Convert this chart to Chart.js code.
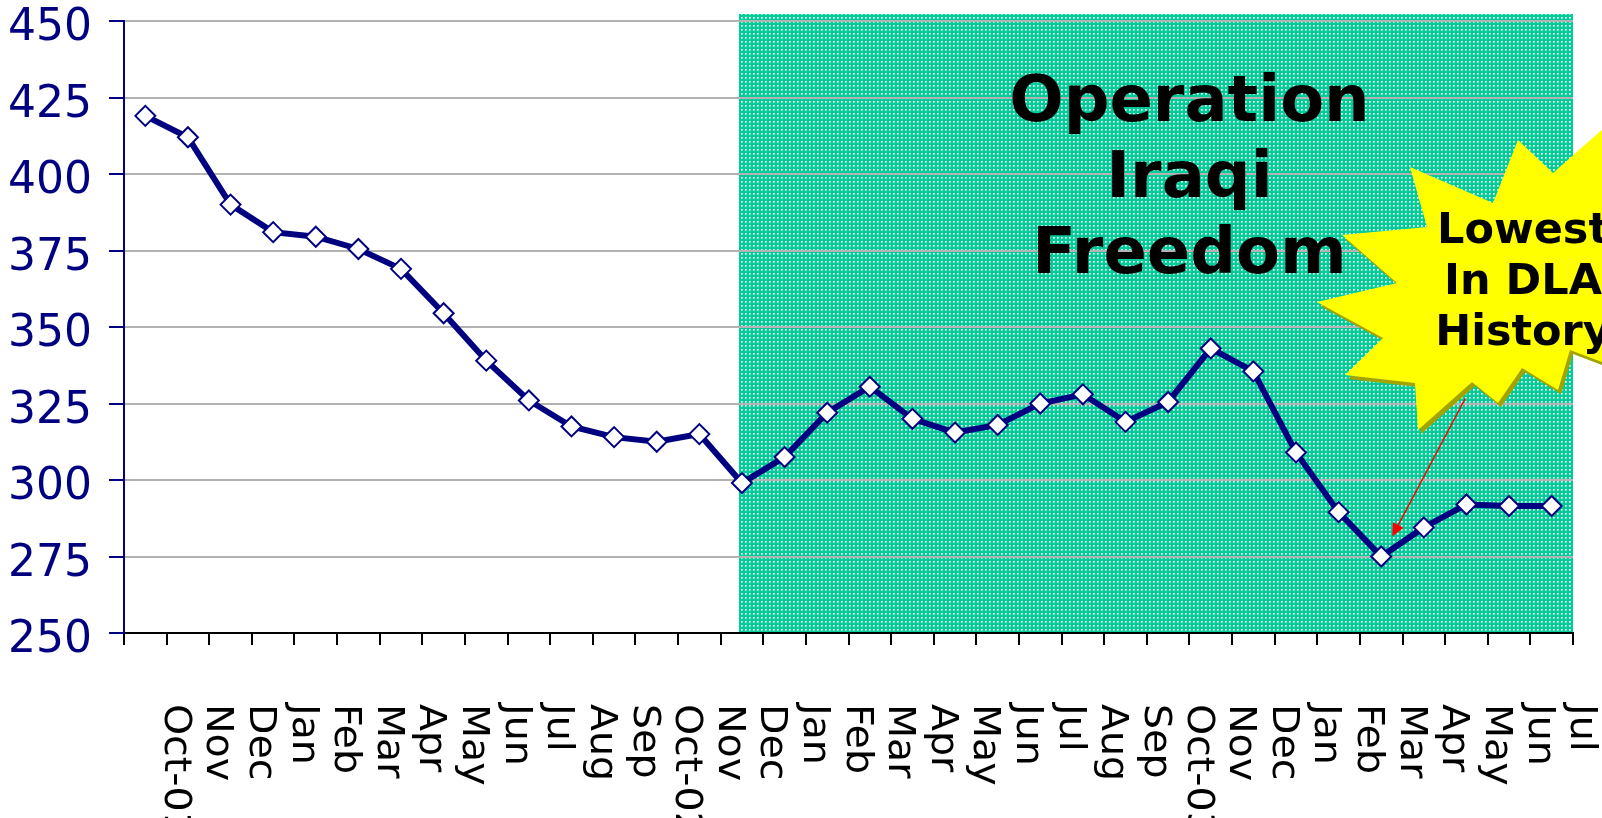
<!DOCTYPE html>
<html>
<head>
<meta charset="utf-8">
<script src="https://cdn.jsdelivr.net/npm/chart.js@4.4.1/dist/chart.umd.min.js"></script>
<style>
  html, body { margin: 0; padding: 0; background: #fff; }
  #wrap { width: 1602px; height: 818px; }
</style>
</head>
<body>
<div id="wrap"><canvas id="chart" width="1602" height="818"></canvas></div>
<script>
// Monthly backorders, Oct-01 .. Jul-04
const MONTHS = [
  'Oct-01', 'Nov', 'Dec', 'Jan', 'Feb', 'Mar', 'Apr', 'May', 'Jun', 'Jul', 'Aug', 'Sep',
  'Oct-02', 'Nov', 'Dec', 'Jan', 'Feb', 'Mar', 'Apr', 'May', 'Jun', 'Jul', 'Aug', 'Sep',
  'Oct-03', 'Nov', 'Dec', 'Jan', 'Feb', 'Mar', 'Apr', 'May', 'Jun', 'Jul'
];
const BACKORDERS = [
  419, 412, 390, 381, 379.5, 375.5, 369, 354.5, 339, 326, 317.5, 314,
  312.5, 315, 299, 307.5, 322, 330.5, 320, 315.5, 318, 325, 328, 319,
  325.5, 343, 335.5, 309, 289.5, 275, 284.5, 292, 291.5, 291.5
];
const Y_MIN = 250;
const Y_MAX = 450;
const Y_STEP = 25;

const TITLE_LINES = ['Operation', 'Iraqi', 'Freedom'];
const BURST_LINES = ['Lowest', 'In DLA', 'History'];
const OIF_START = 14;     // first month inside the shaded period
const LOWEST_INDEX = 29;  // Feb-04, the low point the arrow points at

const NAVY = '#000080';
const GREEN = '#00cc99';

// dotted green fill, like the old PowerPoint pattern
function dotPattern(ctx) {
  const c = document.createElement('canvas');
  c.width = 4; c.height = 4;
  const g = c.getContext('2d');
  g.fillStyle = GREEN;
  g.fillRect(0, 0, 4, 4);
  g.fillStyle = '#ffffff';
  g.fillRect(1, 1, 1, 1);
  g.fillStyle = '#b0eedb';
  g.fillRect(2, 1, 1, 1);
  g.fillRect(1, 2, 1, 1);
  g.fillStyle = '#70dfbe';
  g.fillRect(2, 2, 1, 1);
  return ctx.createPattern(c, 'repeat');
}

// starburst outline, offsets from its centre
const BURST_SHAPE = [
  [-6, -145], [29, -112], [106, -180], [136, -35], [126, 95], [46, 65], [34, 105],
  [-2, 83], [-26, 118], [-52, 97], [-106, 145], [-109, 98], [-179, 90], [-141, 53],
  [-207, 17], [-127, -2], [-182, -50], [-97, -58], [-114, -118], [-31, -82]
];

const decorPlugin = {
  id: 'decor',
  beforeDraw(chart) {
    const { ctx, chartArea, scales: { x } } = chart;
    const left = x.getPixelForValue(OIF_START) - 3;
    ctx.save();
    ctx.fillStyle = dotPattern(ctx);
    ctx.fillRect(left, chartArea.top - 7, chartArea.right - left, chartArea.bottom - chartArea.top + 7);
    ctx.restore();
  },
  afterDraw(chart) {
    const { ctx, chartArea, scales: { x, y } } = chart;
    const half = (x.getPixelForValue(1) - x.getPixelForValue(0)) / 2;

    ctx.save();
    // x labels, rotated to read downward, sitting on the tick after each month
    ctx.fillStyle = '#000';
    ctx.font = '38px "DejaVu Sans"';
    ctx.textAlign = 'left';
    ctx.textBaseline = 'middle';
    MONTHS.forEach((m, i) => {
      ctx.save();
      ctx.translate(x.getPixelForValue(i) + half + 8, chartArea.bottom + 71);
      ctx.scale(1, 1.04);
      ctx.rotate(Math.PI / 2);
      ctx.fillText(m, 0, 0);
      ctx.restore();
    });

    // title over the shaded period
    ctx.font = 'bold 64px "DejaVu Sans"';
    ctx.textAlign = 'center';
    ctx.textBaseline = 'alphabetic';
    const tx = x.getPixelForValue(24.5);
    TITLE_LINES.forEach((t, i) => ctx.fillText(t, tx, chartArea.top + 100 + i * 76));

    // starburst callout
    const cx = chartArea.right - 49;
    const cy = chartArea.top + 264;
    const burst = (dx, dy) => {
      ctx.beginPath();
      BURST_SHAPE.forEach(([px, py], i) => {
        if (i === 0) ctx.moveTo(cx + px + dx, cy + py + dy);
        else ctx.lineTo(cx + px + dx, cy + py + dy);
      });
      ctx.closePath();
      ctx.fill();
    };
    ctx.fillStyle = '#a3a300';
    burst(3, 4);
    ctx.fillStyle = '#ffff00';
    burst(0, 0);

    ctx.fillStyle = '#000';
    ctx.font = 'bold 43px "DejaVu Sans"';
    BURST_LINES.forEach((t, i) => ctx.fillText(t, cx - 1, cy - 42 + i * 51));

    // red arrow to the low point
    const px = x.getPixelForValue(LOWEST_INDEX);
    const py = y.getPixelForValue(BACKORDERS[LOWEST_INDEX]);
    const x1 = px + 84, y1 = py - 158;
    const x2 = px + 11, y2 = py - 20;
    const ang = Math.atan2(y2 - y1, x2 - x1);
    ctx.strokeStyle = '#ff0000';
    ctx.fillStyle = '#ff0000';
    ctx.lineWidth = 1.5;
    ctx.beginPath();
    ctx.moveTo(x1, y1);
    ctx.lineTo(x2 - Math.cos(ang) * 8, y2 - Math.sin(ang) * 8);
    ctx.stroke();
    ctx.beginPath();
    ctx.moveTo(x2, y2);
    ctx.lineTo(x2 - Math.cos(ang) * 13 + Math.sin(ang) * 6, y2 - Math.sin(ang) * 13 - Math.cos(ang) * 6);
    ctx.lineTo(x2 - Math.cos(ang) * 13 - Math.sin(ang) * 6, y2 - Math.sin(ang) * 13 + Math.cos(ang) * 6);
    ctx.closePath();
    ctx.fill();
    ctx.restore();
  }
};

new Chart(document.getElementById('chart'), {
  type: 'line',
  data: {
    labels: MONTHS,
    datasets: [{
      label: 'Backorders',
      data: BACKORDERS,
      borderColor: NAVY,
      borderWidth: 6,
      tension: 0,
      pointStyle: 'rectRot',
      pointRadius: 10,
      pointBackgroundColor: '#ffffff',
      pointBorderColor: NAVY,
      pointBorderWidth: 2,
      fill: false
    }]
  },
  options: {
    responsive: false,
    animation: false,
    layout: { padding: { top: 21, right: 29, left: 0, bottom: 0 } },
    plugins: { legend: { display: false }, tooltip: { enabled: false } },
    scales: {
      x: {
        offset: true,
        grid: { offset: true, drawOnChartArea: false, color: '#000', lineWidth: 2, tickLength: 12 },
        border: { color: '#000', width: 2 },
        ticks: { display: false },
        afterFit(s) { s.height = 185; s.paddingLeft = 0; s.paddingRight = 0; }
      },
      y: {
        min: Y_MIN,
        max: Y_MAX,
        ticks: {
          stepSize: Y_STEP,
          color: NAVY,
          font: { family: '"DejaVu Sans"', size: 44 },
          padding: 17,
          labelOffset: 8
        },
        grid: { color: '#b3b3b3', lineWidth: 2, tickColor: NAVY, tickLength: 15 },
        border: { color: NAVY, width: 2 },
        afterFit(s) { s.width = 124; s.paddingTop = 0; s.paddingBottom = 0; }
      }
    }
  },
  plugins: [decorPlugin]
});
</script>
</body>
</html>
